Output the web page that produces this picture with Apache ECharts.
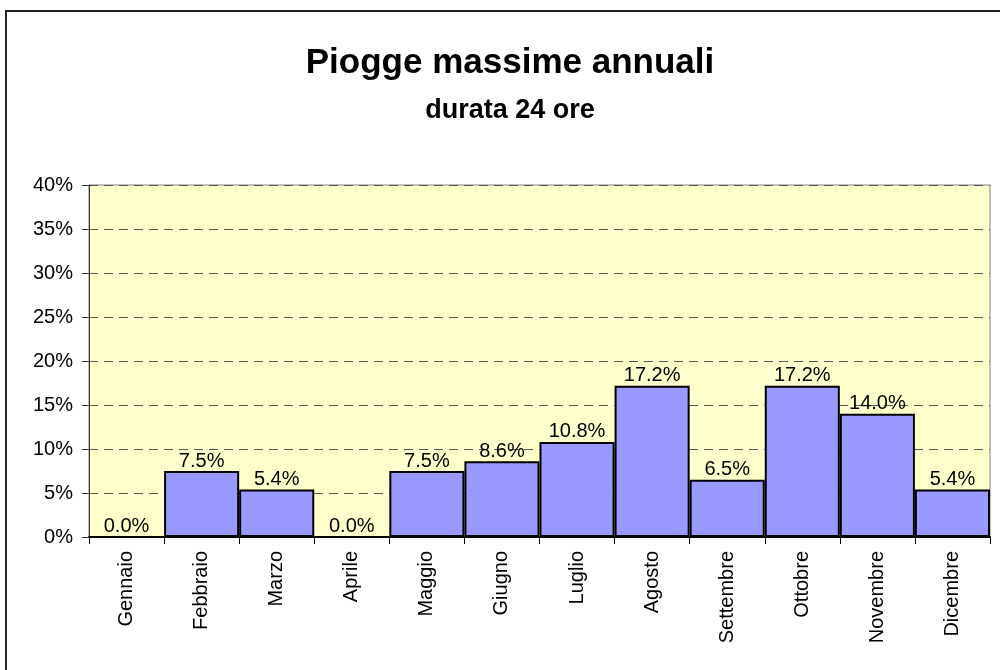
<!DOCTYPE html>
<html>
<head>
<meta charset="utf-8">
<script src="https://cdn.jsdelivr.net/npm/echarts@6/dist/echarts.min.js"></script>
<style>
html,body{margin:0;padding:0;background:#fff;}
#chart{width:1000px;height:670px;}
</style>
</head>
<body>
<div id="chart"></div>
<script>
const titleText = 'Piogge massime annuali';
const subtitleText = 'durata 24 ore';
const categories = ['Gennaio','Febbraio','Marzo','Aprile','Maggio','Giugno','Luglio','Agosto','Settembre','Ottobre','Novembre','Dicembre'];
const values = [0.0, 7.5, 5.4, 0.0, 7.5, 8.6, 10.8, 17.2, 6.5, 17.2, 14.0, 5.4];
const yTicks = [0, 5, 10, 15, 20, 25, 30, 35, 40];

const chart = echarts.init(document.getElementById('chart'), null, {renderer:'canvas'});
const font = 'Liberation Sans, Arial, sans-serif';
chart.setOption({
  animation: false,
  backgroundColor: '#ffffff',
  title: [
    {text: titleText, left: 505, top: 41, textAlign: 'center',
     textStyle: {fontFamily: font, fontSize: 35, fontWeight: 'bold', color: '#000'}},
    {text: subtitleText, left: 505, top: 92, textAlign: 'center',
     textStyle: {fontFamily: font, fontSize: 27, fontWeight: 'bold', color: '#000'}}
  ],
  graphic: [
    {type: 'polyline', shape: {points: [[6, 680], [6, 11], [1010, 11]]},
     style: {stroke: '#222', lineWidth: 2, fill: null}, z: 100}
  ],
  grid: {left: 89, right: 10, top: 185, bottom: 133, show: true,
         backgroundColor: '#ffffcc', borderColor: '#808080', borderWidth: 1},
  xAxis: {
    type: 'category', data: categories,
    axisLine: {lineStyle: {color: '#000', width: 2}},
    axisTick: {show: true, length: 7, lineStyle: {color: '#000', width: 1}},
    axisLabel: {rotate: 90, margin: 14, fontFamily: font, fontSize: 20, color: '#000'}
  },
  yAxis: {
    type: 'value', min: yTicks[0], max: yTicks[yTicks.length-1], interval: 5,
    axisLine: {show: true, lineStyle: {color: '#333', width: 1}},
    axisTick: {show: true, length: 7, lineStyle: {color: '#333'}},
    axisLabel: {formatter: '{value}%', margin: 16, fontFamily: font, fontSize: 20, color: '#000'},
    splitLine: {show: true, lineStyle: {type: [9, 6], color: '#555', width: 1}}
  },
  series: [{
    type: 'bar', data: values, barCategoryGap: '0%',
    itemStyle: {color: '#9999ff', borderColor: '#000', borderWidth: 2},
    label: {show: true, position: 'top', distance: 0,
            formatter: p => p.value.toFixed(1) + '%',
            fontFamily: font, fontSize: 20, color: '#000'}
  }]
});
</script>
</body>
</html>
